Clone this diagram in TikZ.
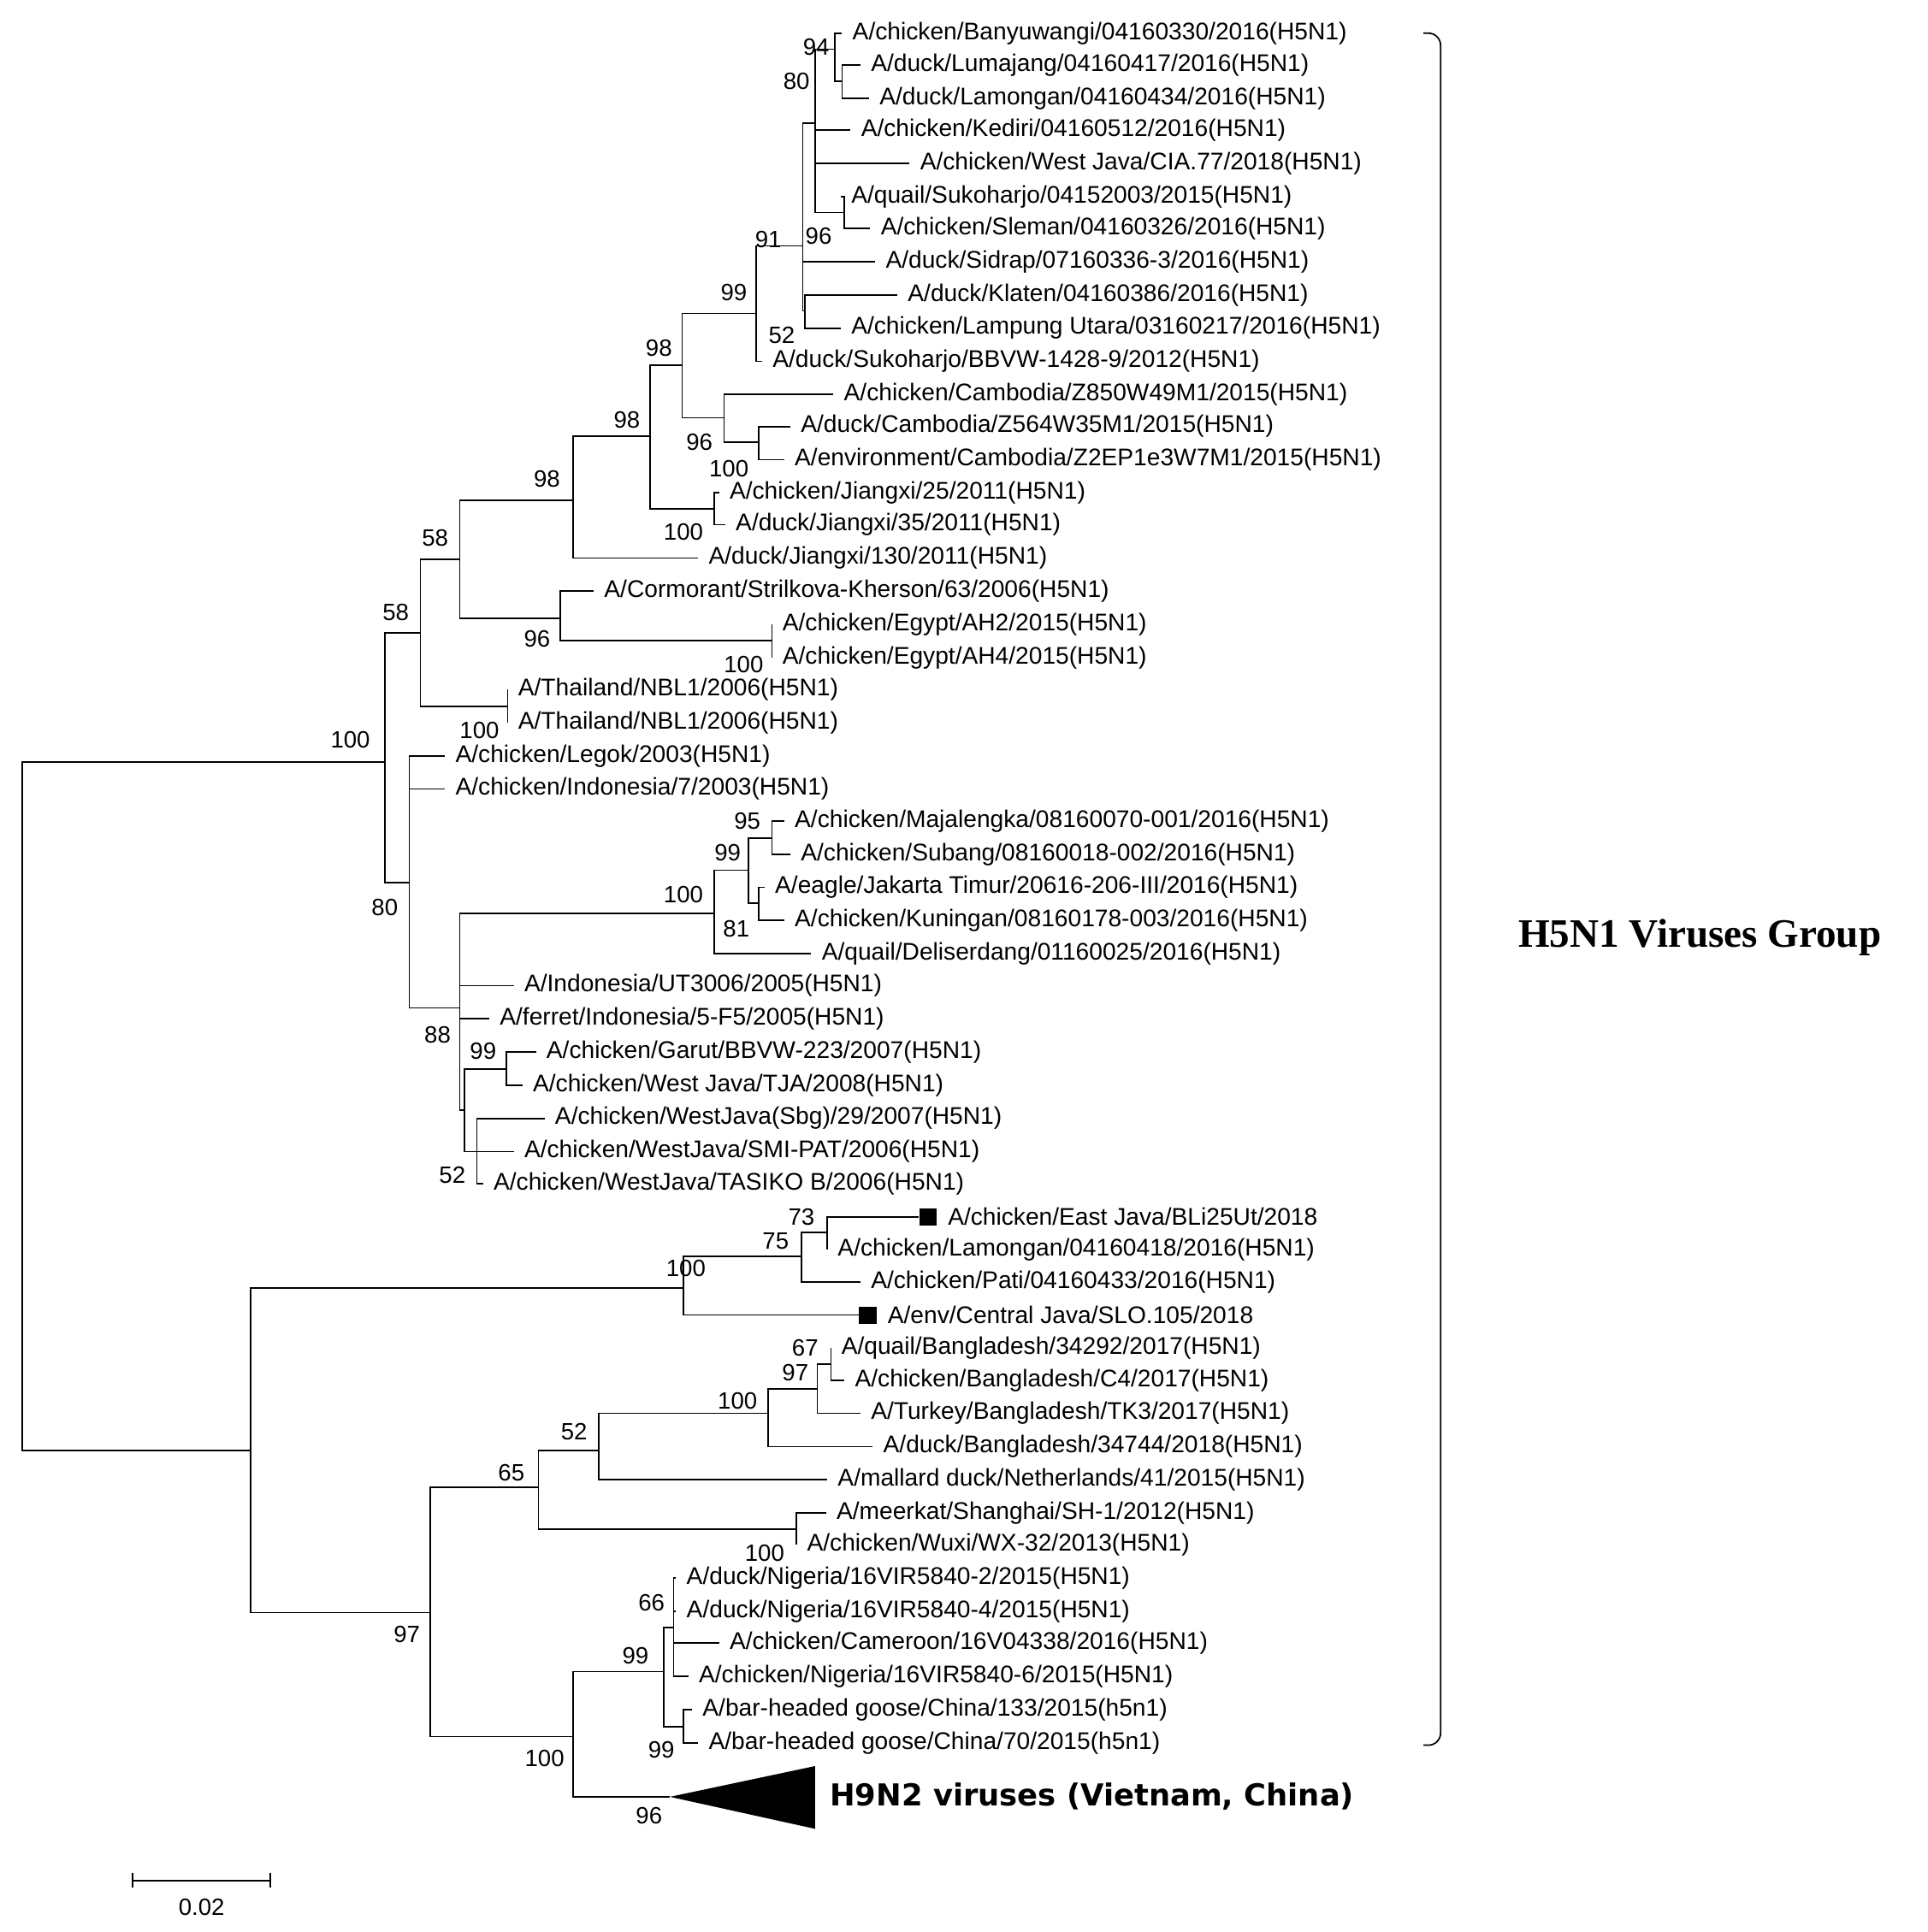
\documentclass[tikz,border=0pt]{standalone}
\usepackage{fontspec}
\setmainfont{Liberation Sans}
\newfontfamily\grpfont{Liberation Serif}
\newfontfamily\hfont{DejaVu Sans}
\begin{document}
\begin{tikzpicture}[x=0.5pt,y=-0.5pt,line width=0.6pt,
 leaf/.style={anchor=west,inner xsep=4pt,inner ysep=0pt,font=\fontsize{9.8}{10}\selectfont},
 bs/.style={font=\fontsize{9.6}{10}\selectfont,inner sep=0pt},
 sq/.style={fill=black,minimum size=7pt,inner sep=0pt}]
\useasboundingbox (0,0) rectangle (1568,1572);
% leaves
\node[leaf] (l1) at (685,27) {A/chicken/Banyuwangi/04160330/2016(H5N1)};
\node[leaf] (l2) at (700,53) {A/duck/Lumajang/04160417/2016(H5N1)};
\node[leaf] (l3) at (707,80) {A/duck/Lamongan/04160434/2016(H5N1)};
\node[leaf] (l4) at (692,106) {A/chicken/Kediri/04160512/2016(H5N1)};
\node[leaf] (l5) at (740,133) {A/chicken/West Java/CIA.77/2018(H5N1)};
\node[leaf] (l6) at (684,160) {A/quail/Sukoharjo/04152003/2015(H5N1)};
\node[leaf] (l7) at (708,186) {A/chicken/Sleman/04160326/2016(H5N1)};
\node[leaf] (l8) at (712,213) {A/duck/Sidrap/07160336-3/2016(H5N1)};
\node[leaf] (l9) at (730,240) {A/duck/Klaten/04160386/2016(H5N1)};
\node[leaf] (l10) at (684,267) {A/chicken/Lampung Utara/03160217/2016(H5N1)};
\node[leaf] (l11) at (620,294) {A/duck/Sukoharjo/BBVW-1428-9/2012(H5N1)};
\node[leaf] (l12) at (678,321) {A/chicken/Cambodia/Z850W49M1/2015(H5N1)};
\node[leaf] (l13) at (643,347) {A/duck/Cambodia/Z564W35M1/2015(H5N1)};
\node[leaf] (l14) at (638,374) {A/environment/Cambodia/Z2EP1e3W7M1/2015(H5N1)};
\node[leaf] (l15) at (585,401) {A/chicken/Jiangxi/25/2011(H5N1)};
\node[leaf] (l16) at (590,427) {A/duck/Jiangxi/35/2011(H5N1)};
\node[leaf] (l17) at (568,454) {A/duck/Jiangxi/130/2011(H5N1)};
\node[leaf] (l18) at (483,481) {A/Cormorant/Strilkova-Kherson/63/2006(H5N1)};
\node[leaf] (l19) at (628,508) {A/chicken/Egypt/AH2/2015(H5N1)};
\node[leaf] (l20) at (628,535) {A/chicken/Egypt/AH4/2015(H5N1)};
\node[leaf] (l21) at (413,561) {A/Thailand/NBL1/2006(H5N1)};
\node[leaf] (l22) at (413,588) {A/Thailand/NBL1/2006(H5N1)};
\node[leaf] (l23) at (362,615) {A/chicken/Legok/2003(H5N1)};
\node[leaf] (l24) at (362,642) {A/chicken/Indonesia/7/2003(H5N1)};
\node[leaf] (l25) at (638,668) {A/chicken/Majalengka/08160070-001/2016(H5N1)};
\node[leaf] (l26) at (643,695) {A/chicken/Subang/08160018-002/2016(H5N1)};
\node[leaf] (l27) at (622,722) {A/eagle/Jakarta Timur/20616-206-III/2016(H5N1)};
\node[leaf] (l28) at (638,749) {A/chicken/Kuningan/08160178-003/2016(H5N1)};
\node[leaf] (l29) at (660,776) {A/quail/Deliserdang/01160025/2016(H5N1)};
\node[leaf] (l30) at (418,802) {A/Indonesia/UT3006/2005(H5N1)};
\node[leaf] (l31) at (398,829) {A/ferret/Indonesia/5-F5/2005(H5N1)};
\node[leaf] (l32) at (436,856) {A/chicken/Garut/BBVW-223/2007(H5N1)};
\node[leaf] (l33) at (425,883) {A/chicken/West Java/TJA/2008(H5N1)};
\node[leaf] (l34) at (443,910) {A/chicken/WestJava(Sbg)/29/2007(H5N1)};
\node[leaf] (l35) at (418,937) {A/chicken/WestJava/SMI-PAT/2006(H5N1)};
\node[leaf] (l36) at (393,963) {A/chicken/WestJava/TASIKO B/2006(H5N1)};
\node[sq] (s37) at (755,990) {};
\node[leaf] (l37) at (s37.east) {A/chicken/East Java/BLi25Ut/2018};
\node[leaf] (l38) at (673,1017) {A/chicken/Lamongan/04160418/2016(H5N1)};
\node[leaf] (l39) at (700,1043) {A/chicken/Pati/04160433/2016(H5N1)};
\node[sq] (s40) at (706,1070) {};
\node[leaf] (l40) at (s40.east) {A/env/Central Java/SLO.105/2018};
\node[leaf] (l41) at (676,1097) {A/quail/Bangladesh/34292/2017(H5N1)};
\node[leaf] (l42) at (687,1123) {A/chicken/Bangladesh/C4/2017(H5N1)};
\node[leaf] (l43) at (700,1150) {A/Turkey/Bangladesh/TK3/2017(H5N1)};
\node[leaf] (l44) at (710,1177) {A/duck/Bangladesh/34744/2018(H5N1)};
\node[leaf] (l45) at (673,1204) {A/mallard duck/Netherlands/41/2015(H5N1)};
\node[leaf] (l46) at (672,1231) {A/meerkat/Shanghai/SH-1/2012(H5N1)};
\node[leaf] (l47) at (648,1257) {A/chicken/Wuxi/WX-32/2013(H5N1)};
\node[leaf] (l48) at (550,1284) {A/duck/Nigeria/16VIR5840-2/2015(H5N1)};
\node[leaf] (l49) at (550,1311) {A/duck/Nigeria/16VIR5840-4/2015(H5N1)};
\node[leaf] (l50) at (585,1337) {A/chicken/Cameroon/16V04338/2016(H5N1)};
\node[leaf] (l51) at (560,1364) {A/chicken/Nigeria/16VIR5840-6/2015(H5N1)};
\node[leaf] (l52) at (563,1391) {A/bar-headed goose/China/133/2015(h5n1)};
\node[leaf] (l53) at (568,1418) {A/bar-headed goose/China/70/2015(h5n1)};
% triangle
\coordinate (tri) at (545,1462);
\fill (tri) -- (663,1437) -- (663,1488) -- cycle;
\node[anchor=west,font=\hfont\bfseries\fontsize{12.3}{14}\selectfont] (h9) at (668,1462) {H9N2 viruses (Vietnam, China)};
% internal nodes
\coordinate (root) at (18,900);
\coordinate (nA) at (313,620);
\coordinate (nB) at (204,1180);
\coordinate (n342) at (342,515);
\coordinate (n374) at (374,455);
\coordinate (n466) at (466,407);
\coordinate (n529) at (529,355);
\coordinate (n555) at (555,297);
\coordinate (n615) at (615,255);
\coordinate (n653) at (653,200);
\coordinate (n663) at (663,100);
\coordinate (n679) at (679,40);
\coordinate (n685) at (685,66);
\coordinate (n687) at (687,173);
\coordinate (n655) at (655,253);
\coordinate (n589) at (589,340);
\coordinate (n617) at (617,360);
\coordinate (n581j) at (581,414);
\coordinate (n456) at (456,503);
\coordinate (n628) at (628,521);
\coordinate (n413) at (413,575);
\coordinate (n333) at (333,718);
\coordinate (n374b) at (374,820);
\coordinate (n581) at (581,743);
\coordinate (n609) at (609,708);
\coordinate (n628b) at (628,682);
\coordinate (n617b) at (617,735);
\coordinate (n378) at (378,903);
\coordinate (n412) at (412,870);
\coordinate (n388) at (388,937);
\coordinate (n556) at (556,1048);
\coordinate (n652) at (652,1022);
\coordinate (n673) at (673,1003);
\coordinate (n350) at (350,1312);
\coordinate (n438) at (438,1210);
\coordinate (n487) at (487,1180);
\coordinate (n625) at (625,1150);
\coordinate (n665) at (665,1130);
\coordinate (n676) at (676,1110);
\coordinate (n648) at (648,1244);
\coordinate (n466b) at (466,1413);
\coordinate (n540) at (540,1360);
\coordinate (n548) at (548,1324);
\coordinate (n556b) at (556,1405);
% edges
\draw (root) |- (nA); \draw (root) |- (nB);
\draw (nA) |- (n342); \draw (nA) |- (n333);
\draw (n342) |- (n374); \draw (n342) |- (n413);
\draw (n413) |- (l21.west); \draw (n413) |- (l22.west);
\draw (n374) |- (n466); \draw (n374) |- (n456);
\draw (n456) |- (l18.west); \draw (n456) |- (n628);
\draw (n628) |- (l19.west); \draw (n628) |- (l20.west);
\draw (n466) |- (n529); \draw (n466) |- (l17.west);
\draw (n529) |- (n555); \draw (n529) |- (n581j);
\draw (n581j) |- (l15.west); \draw (n581j) |- (l16.west);
\draw (n555) |- (n615); \draw (n555) |- (n589);
\draw (n589) |- (l12.west); \draw (n589) |- (n617);
\draw (n617) |- (l13.west); \draw (n617) |- (l14.west);
\draw (n615) |- (n653); \draw (n615) |- (l11.west);
\draw (n653) |- (n663); \draw (n653) |- (l8.west); \draw (n653) |- (n655);
\draw (n655) |- (l9.west); \draw (n655) |- (l10.west);
\draw (n663) |- (n679); \draw (n663) |- (l4.west); \draw (n663) |- (l5.west); \draw (n663) |- (n687);
\draw (n679) |- (l1.west); \draw (n679) |- (n685);
\draw (n685) |- (l2.west); \draw (n685) |- (l3.west);
\draw (n687) |- (l6.west); \draw (n687) |- (l7.west);
\draw (n333) |- (l23.west); \draw (n333) |- (l24.west); \draw (n333) |- (n374b);
\draw (n374b) |- (n581); \draw (n374b) |- (l30.west); \draw (n374b) |- (l31.west); \draw (n374b) |- (n378);
\draw (n581) |- (n609); \draw (n581) |- (l29.west);
\draw (n609) |- (n628b); \draw (n609) |- (n617b);
\draw (n628b) |- (l25.west); \draw (n628b) |- (l26.west);
\draw (n617b) |- (l27.west); \draw (n617b) |- (l28.west);
\draw (n378) |- (n412); \draw (n378) |- (n388);
\draw (n412) |- (l32.west); \draw (n412) |- (l33.west);
\draw (n388) |- (l34.west); \draw (n388) |- (l35.west); \draw (n388) |- (l36.west);
\draw (nB) |- (n556); \draw (nB) |- (n350);
\draw (n556) |- (n652); \draw (n556) |- (s40.west);
\draw (n652) |- (n673); \draw (n652) |- (l39.west);
\draw (n673) |- (s37.west); \draw (n673) |- (l38.west);
\draw (n350) |- (n438); \draw (n350) |- (n466b);
\draw (n438) |- (n487); \draw (n438) |- (n648);
\draw (n648) |- (l46.west); \draw (n648) |- (l47.west);
\draw (n487) |- (n625); \draw (n487) |- (l45.west);
\draw (n625) |- (n665); \draw (n625) |- (l44.west);
\draw (n665) |- (n676); \draw (n665) |- (l43.west);
\draw (n676) |- (l41.west); \draw (n676) |- (l42.west);
\draw (n466b) |- (n540); \draw (n466b) |- (tri);
\draw (n540) |- (n548); \draw (n540) |- (n556b);
\draw (n548) |- (l48.west); \draw (n548) |- (l49.west); \draw (n548) |- (l50.west); \draw (n548) |- (l51.west);
\draw (n556b) |- (l52.west); \draw (n556b) |- (l53.west);
% bootstrap labels
\foreach \v/\x/\y in {94/664/38, 80/648/66, 96/666/192, 91/625/195, 99/597/238, 52/636/273, 98/536/283,
 98/510/342, 96/569/360, 100/593/381, 98/445/390, 100/556/433, 58/354/438, 58/322/498, 96/437/520,
 100/605/541, 100/390/594, 100/285/602, 95/608/668, 99/592/694, 100/556/728, 80/313/738, 81/599/756,
 88/356/842, 99/393/855, 52/368/956, 73/652/990, 75/631/1010, 100/558/1032, 67/655/1097, 97/647/1117,
 100/600/1140, 52/467/1165, 65/416/1198, 100/622/1264, 66/530/1304, 97/331/1330, 99/517/1347,
 99/538/1424, 100/443/1431, 96/528/1477}
 \node[bs] at (\x,\y) {\v};
% bracket
\draw[rounded corners=5pt] (1158,27) -- (1172,27) -- (1172,1420) -- (1158,1420);
\node[anchor=west,font=\grpfont\bfseries\fontsize{16.4}{18}\selectfont] (grp) at (1228,763) {H5N1 Viruses Group};
% scale bar
\coordinate (sb1) at (108,1530); \coordinate (sb2) at (220,1530);
\draw (sb1) -- (sb2);
\draw (108,1524) -- (108,1536); \draw (220,1524) -- (220,1536);
\node[bs] (sbl) at (164,1552) {0.02};
\end{tikzpicture}
\end{document}
